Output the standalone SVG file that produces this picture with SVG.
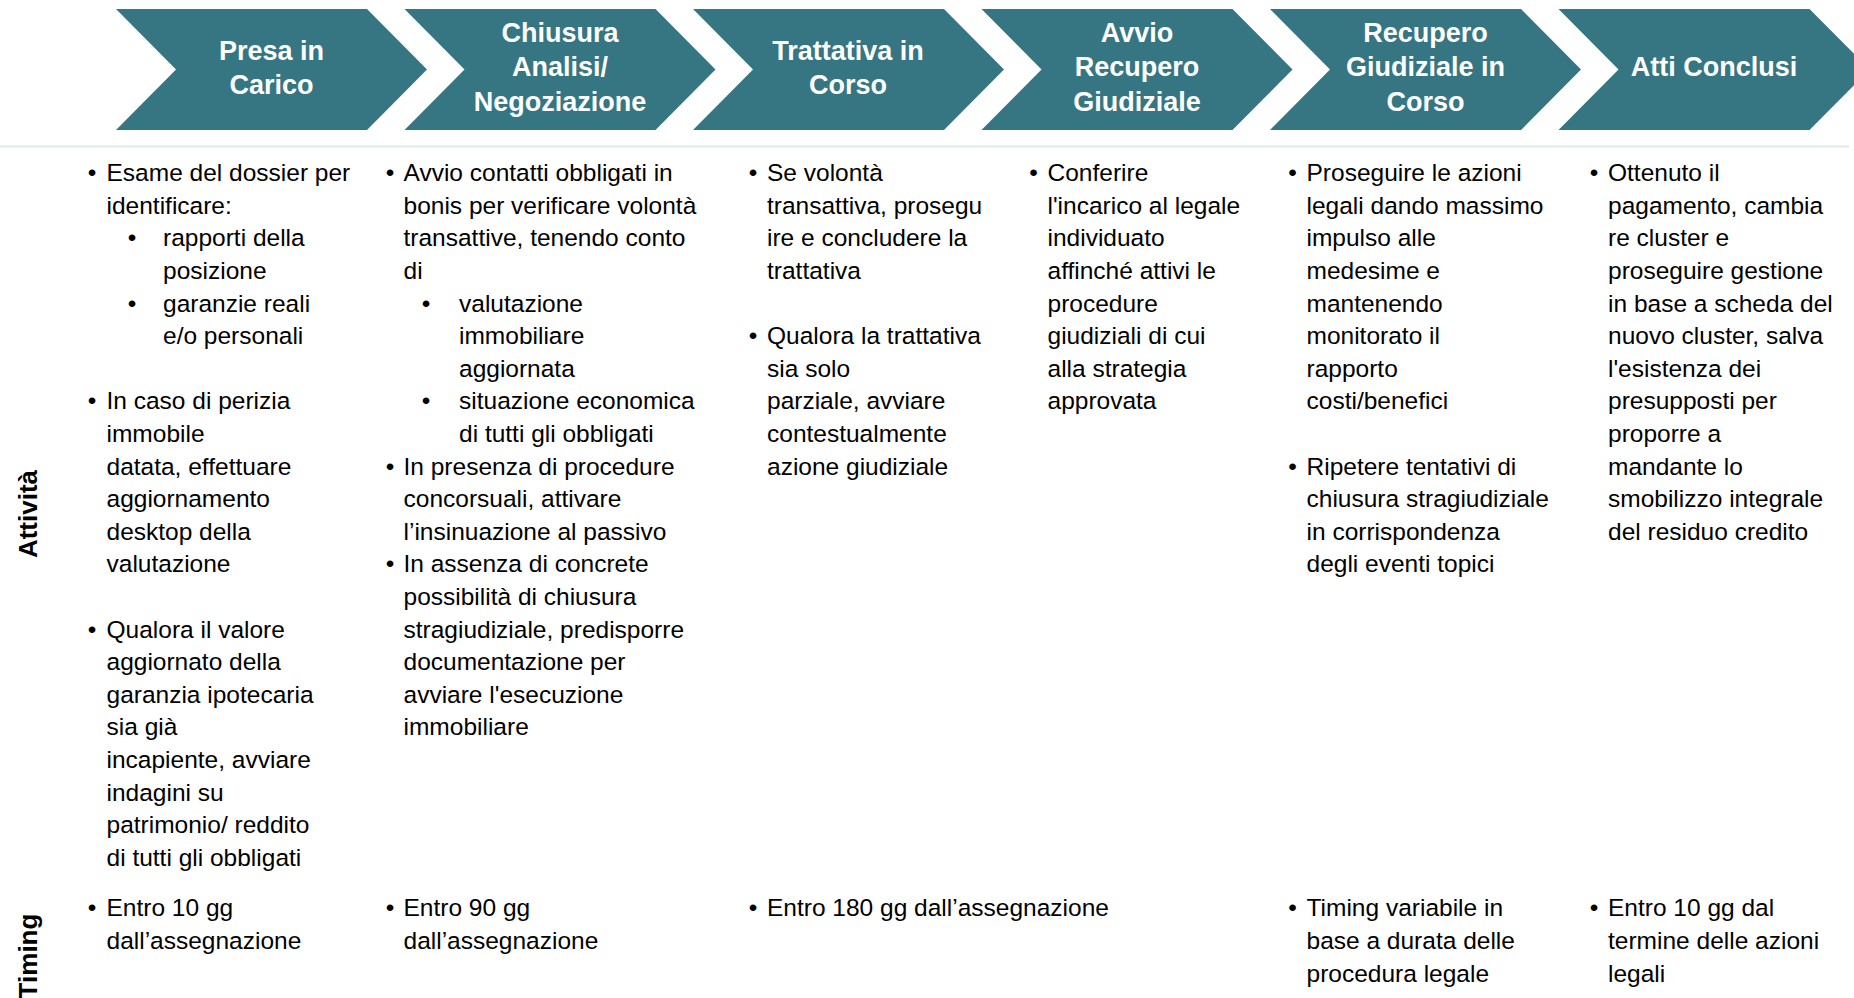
<svg xmlns="http://www.w3.org/2000/svg" width="1854" height="998" viewBox="0 0 1854 998">
<style>
.chev{fill:#367682}
.hd{font-family:"Liberation Sans",Arial,sans-serif;font-weight:bold;font-size:27px;fill:#ffffff;text-anchor:middle}
.tx{font-family:"Liberation Sans",Arial,sans-serif;font-size:24.5px;fill:#000000}
.bu{font-family:"Liberation Sans",Arial,sans-serif;font-size:24.5px;fill:#000000;text-anchor:middle}
.lb{font-family:"Liberation Sans",Arial,sans-serif;font-weight:bold;font-size:26px;fill:#000000;text-anchor:middle}
.sep{stroke:#e1eff3;stroke-width:2.5;fill:none}
</style>
<rect x="0" y="0" width="1854" height="998" fill="#ffffff"/>
<line class="sep" x1="0" y1="146.5" x2="1849" y2="146.5"/>
<g id="labels">
<text class="lb" transform="translate(37,514) rotate(-90)">Attività</text>
<text class="lb" transform="translate(37,956) rotate(-90)">Timing</text>
</g>
<g id="connectors"></g>

<g id="step1">
<polygon class="chev" points="116,9 367,9 427,69.5 367,130 116,130 176,69.5"/>
<text class="hd" x="271.5" y="59.8">Presa in</text>
<text class="hd" x="271.5" y="94.1">Carico</text>
<text class="bu" x="92" y="181.1">•</text>
<text class="tx" x="106.5" y="181.1">Esame del dossier per</text>
<text class="tx" x="106.5" y="213.7">identificare:</text>
<text class="bu" x="132" y="246.3">•</text>
<text class="tx" x="163" y="246.3">rapporti della</text>
<text class="tx" x="163" y="278.9">posizione</text>
<text class="bu" x="132" y="311.5">•</text>
<text class="tx" x="163" y="311.5">garanzie reali</text>
<text class="tx" x="163" y="344.1">e/o personali</text>
<text class="bu" x="92" y="409.3">•</text>
<text class="tx" x="106.5" y="409.3">In caso di perizia</text>
<text class="tx" x="106.5" y="441.9">immobile</text>
<text class="tx" x="106.5" y="474.5">datata, effettuare</text>
<text class="tx" x="106.5" y="507.1">aggiornamento</text>
<text class="tx" x="106.5" y="539.7">desktop della</text>
<text class="tx" x="106.5" y="572.3">valutazione</text>
<text class="bu" x="92" y="637.5">•</text>
<text class="tx" x="106.5" y="637.5">Qualora il valore</text>
<text class="tx" x="106.5" y="670.1">aggiornato della</text>
<text class="tx" x="106.5" y="702.7">garanzia ipotecaria</text>
<text class="tx" x="106.5" y="735.3">sia già</text>
<text class="tx" x="106.5" y="767.9">incapiente, avviare</text>
<text class="tx" x="106.5" y="800.5">indagini su</text>
<text class="tx" x="106.5" y="833.1">patrimonio/ reddito</text>
<text class="tx" x="106.5" y="865.7">di tutti gli obbligati</text>
<text class="bu" x="92" y="915.5">•</text>
<text class="tx" x="106.5" y="915.5">Entro 10 gg</text>
<text class="tx" x="106.5" y="948.5">dall’assegnazione</text>
</g>

<g id="step2">
<polygon class="chev" points="404.5,9 655.5,9 715.5,69.5 655.5,130 404.5,130 464.5,69.5"/>
<text class="hd" x="560" y="42.3">Chiusura</text>
<text class="hd" x="560" y="76.4">Analisi/</text>
<text class="hd" x="560" y="110.5">Negoziazione</text>
<text class="bu" x="390" y="181.1">•</text>
<text class="tx" x="403.5" y="181.1">Avvio contatti obbligati in</text>
<text class="tx" x="403.5" y="213.7">bonis per verificare volontà</text>
<text class="tx" x="403.5" y="246.3">transattive, tenendo conto</text>
<text class="tx" x="403.5" y="278.9">di</text>
<text class="bu" x="426" y="311.5">•</text>
<text class="tx" x="459" y="311.5">valutazione</text>
<text class="tx" x="459" y="344.1">immobiliare</text>
<text class="tx" x="459" y="376.7">aggiornata</text>
<text class="bu" x="426" y="409.3">•</text>
<text class="tx" x="459" y="409.3">situazione economica</text>
<text class="tx" x="459" y="441.9">di tutti gli obbligati</text>
<text class="bu" x="390" y="474.5">•</text>
<text class="tx" x="403.5" y="474.5">In presenza di procedure</text>
<text class="tx" x="403.5" y="507.1">concorsuali, attivare</text>
<text class="tx" x="403.5" y="539.7">l’insinuazione al passivo</text>
<text class="bu" x="390" y="572.3">•</text>
<text class="tx" x="403.5" y="572.3">In assenza di concrete</text>
<text class="tx" x="403.5" y="604.9">possibilità di chiusura</text>
<text class="tx" x="403.5" y="637.5">stragiudiziale, predisporre</text>
<text class="tx" x="403.5" y="670.1">documentazione per</text>
<text class="tx" x="403.5" y="702.7">avviare l'esecuzione</text>
<text class="tx" x="403.5" y="735.3">immobiliare</text>
<text class="bu" x="390" y="915.5">•</text>
<text class="tx" x="403.5" y="915.5">Entro 90 gg</text>
<text class="tx" x="403.5" y="948.5">dall’assegnazione</text>
</g>

<g id="step3">
<polygon class="chev" points="693,9 944,9 1004,69.5 944,130 693,130 753,69.5"/>
<text class="hd" x="848" y="59.8">Trattativa in</text>
<text class="hd" x="848" y="94.1">Corso</text>
<text class="bu" x="753" y="181.1">•</text>
<text class="tx" x="767" y="181.1">Se volontà</text>
<text class="tx" x="767" y="213.7">transattiva, prosegu</text>
<text class="tx" x="767" y="246.3">ire e concludere  la</text>
<text class="tx" x="767" y="278.9">trattativa</text>
<text class="bu" x="753" y="344.1">•</text>
<text class="tx" x="767" y="344.1">Qualora la trattativa</text>
<text class="tx" x="767" y="376.7">sia solo</text>
<text class="tx" x="767" y="409.3">parziale, avviare</text>
<text class="tx" x="767" y="441.9">contestualmente</text>
<text class="tx" x="767" y="474.5">azione giudiziale</text>
<text class="bu" x="753" y="915.5">•</text>
<text class="tx" x="767" y="915.5">Entro 180 gg dall’assegnazione</text>
</g>

<g id="step4">
<polygon class="chev" points="981.5,9 1232.5,9 1292.5,69.5 1232.5,130 981.5,130 1041.5,69.5"/>
<text class="hd" x="1137" y="42.3">Avvio</text>
<text class="hd" x="1137" y="76.4">Recupero</text>
<text class="hd" x="1137" y="110.5">Giudiziale</text>
<text class="bu" x="1033.5" y="181.1">•</text>
<text class="tx" x="1047.5" y="181.1">Conferire</text>
<text class="tx" x="1047.5" y="213.7">l'incarico al legale</text>
<text class="tx" x="1047.5" y="246.3">individuato</text>
<text class="tx" x="1047.5" y="278.9">affinché attivi le</text>
<text class="tx" x="1047.5" y="311.5">procedure</text>
<text class="tx" x="1047.5" y="344.1">giudiziali di cui</text>
<text class="tx" x="1047.5" y="376.7">alla strategia</text>
<text class="tx" x="1047.5" y="409.3">approvata</text>
</g>

<g id="step5">
<polygon class="chev" points="1270,9 1521,9 1581,69.5 1521,130 1270,130 1330,69.5"/>
<text class="hd" x="1425.5" y="42.3">Recupero</text>
<text class="hd" x="1425.5" y="76.4">Giudiziale in</text>
<text class="hd" x="1425.5" y="110.5">Corso</text>
<text class="bu" x="1292.5" y="181.1">•</text>
<text class="tx" x="1306.5" y="181.1">Proseguire le azioni</text>
<text class="tx" x="1306.5" y="213.7">legali dando massimo</text>
<text class="tx" x="1306.5" y="246.3">impulso alle</text>
<text class="tx" x="1306.5" y="278.9">medesime e</text>
<text class="tx" x="1306.5" y="311.5">mantenendo</text>
<text class="tx" x="1306.5" y="344.1">monitorato il</text>
<text class="tx" x="1306.5" y="376.7">rapporto</text>
<text class="tx" x="1306.5" y="409.3">costi/benefici</text>
<text class="bu" x="1292.5" y="474.5">•</text>
<text class="tx" x="1306.5" y="474.5">Ripetere tentativi di</text>
<text class="tx" x="1306.5" y="507.1">chiusura stragiudiziale</text>
<text class="tx" x="1306.5" y="539.7">in corrispondenza</text>
<text class="tx" x="1306.5" y="572.3">degli eventi topici</text>
<text class="bu" x="1292.5" y="915.5">•</text>
<text class="tx" x="1306.5" y="915.5">Timing variabile in</text>
<text class="tx" x="1306.5" y="948.5">base a durata delle</text>
<text class="tx" x="1306.5" y="981.5">procedura legale</text>
</g>

<g id="step6">
<polygon class="chev" points="1558.5,9 1809.5,9 1869.5,69.5 1809.5,130 1558.5,130 1618.5,69.5"/>
<text class="hd" x="1714" y="76.4">Atti Conclusi</text>
<text class="bu" x="1594" y="181.1">•</text>
<text class="tx" x="1608" y="181.1">Ottenuto il</text>
<text class="tx" x="1608" y="213.7">pagamento, cambia</text>
<text class="tx" x="1608" y="246.3">re cluster e</text>
<text class="tx" x="1608" y="278.9">proseguire gestione</text>
<text class="tx" x="1608" y="311.5">in base a scheda del</text>
<text class="tx" x="1608" y="344.1">nuovo cluster, salva</text>
<text class="tx" x="1608" y="376.7">l'esistenza dei</text>
<text class="tx" x="1608" y="409.3">presupposti per</text>
<text class="tx" x="1608" y="441.9">proporre a</text>
<text class="tx" x="1608" y="474.5">mandante lo</text>
<text class="tx" x="1608" y="507.1">smobilizzo integrale</text>
<text class="tx" x="1608" y="539.7">del residuo credito</text>
<text class="bu" x="1594" y="915.5">•</text>
<text class="tx" x="1608" y="915.5">Entro 10 gg dal</text>
<text class="tx" x="1608" y="948.5">termine delle azioni</text>
<text class="tx" x="1608" y="981.5">legali</text>
</g>
</svg>
